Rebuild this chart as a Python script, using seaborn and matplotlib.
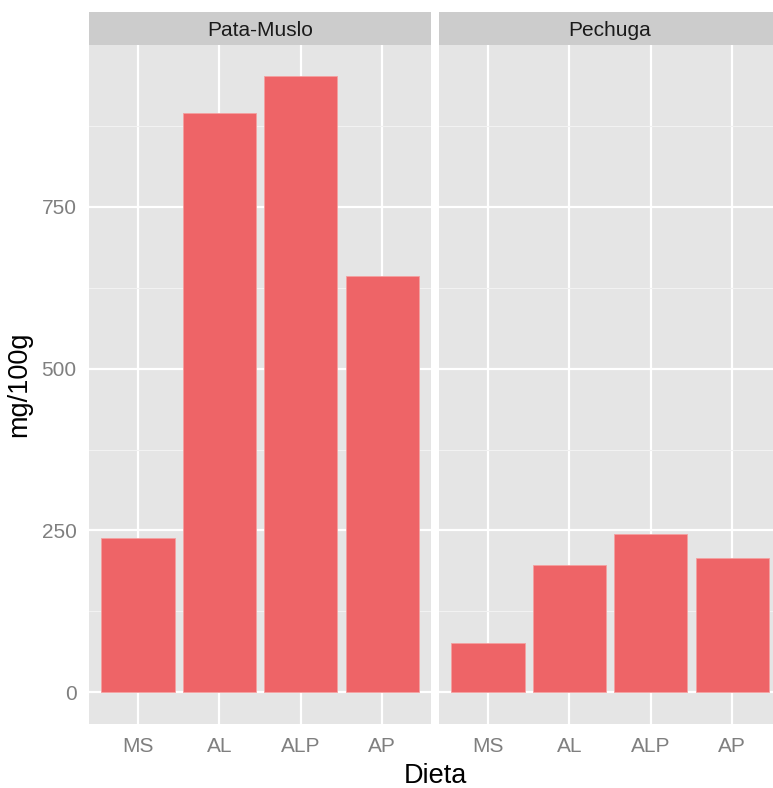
import matplotlib
matplotlib.use("Agg")
import matplotlib.pyplot as plt
import seaborn as sns
import pandas as pd

dietas = ["MS", "AL", "ALP", "AP"]
partes = ["Pata-Muslo", "Pechuga"]
pata_muslo = [239, 895, 952, 643]
pechuga = [76, 196, 244, 208]

df = pd.DataFrame({
    "Dieta": dietas * 2,
    "parte": [partes[0]] * 4 + [partes[1]] * 4,
    "valor": pata_muslo + pechuga,
})

sns.set_theme(style="darkgrid")
plt.rcParams["font.family"] = ["Liberation Sans", "DejaVu Sans"]

W, H = 773, 788
fig = plt.figure(figsize=(W / 100, H / 100), dpi=100)

# the right panel runs past the image edge, as in the original
panels = [(89, 431), (439, 781)]
top, bottom = 45, 724
bar_color = "#EE6467"
grey_text = "#7F7F7F"

for i, (parte, (x0, x1)) in enumerate(zip(partes, panels)):
    ax = fig.add_axes([x0 / W, 1 - bottom / H, (x1 - x0) / W, (bottom - top) / H])
    sub = df[df["parte"] == parte]
    sns.barplot(data=sub, x="Dieta", y="valor", order=dietas, color=bar_color,
                saturation=1, width=0.9, edgecolor="#F4A0A0", linewidth=0.6,
                ax=ax, zorder=3)
    ax.set_facecolor("#E5E5E5")
    ax.set_xlim(-0.6, 3.6)
    ax.set_ylim(-49, 1000)
    ax.set_yticks([0, 250, 500, 750])
    ax.set_yticks([125, 375, 625, 875], minor=True)
    ax.grid(which="major", color="white", linewidth=1.6, zorder=0)
    ax.grid(which="minor", axis="y", color="#F2F2F2", linewidth=0.8, zorder=0)
    ax.set_axisbelow(True)
    for s in ax.spines.values():
        s.set_visible(False)
    ax.tick_params(axis="both", which="major", colors=grey_text, labelsize=15,
                   length=5, width=1.2, pad=4, labelcolor=grey_text)
    ax.tick_params(axis="y", which="minor", length=0)
    ax.set_xlabel("")
    ax.set_ylabel("")
    if i > 0:
        ax.tick_params(axis="y", which="major", length=0, labelleft=False)
    # franja con el nombre del panel
    sax = fig.add_axes([x0 / W, 1 - top / H, (x1 - x0) / W, 33 / H])
    sax.set_facecolor("#CCCCCC")
    sax.set_xticks([])
    sax.set_yticks([])
    for s in sax.spines.values():
        s.set_visible(False)
    sax.text(0.5, 0.45, parte, ha="center", va="center", fontsize=15,
             color="#1A1A1A", transform=sax.transAxes)

fig.text((89 + 781) / 2 / W, 1 - 776 / H, "Dieta", ha="center", va="center",
         fontsize=19.5, color="black")
fig.text(19 / W, 1 - ((top + bottom) / 2) / H, "mg/100g", ha="center",
         va="center", rotation=90, fontsize=19.5, color="black")

fig.savefig("out.png", dpi=100, facecolor="white")
